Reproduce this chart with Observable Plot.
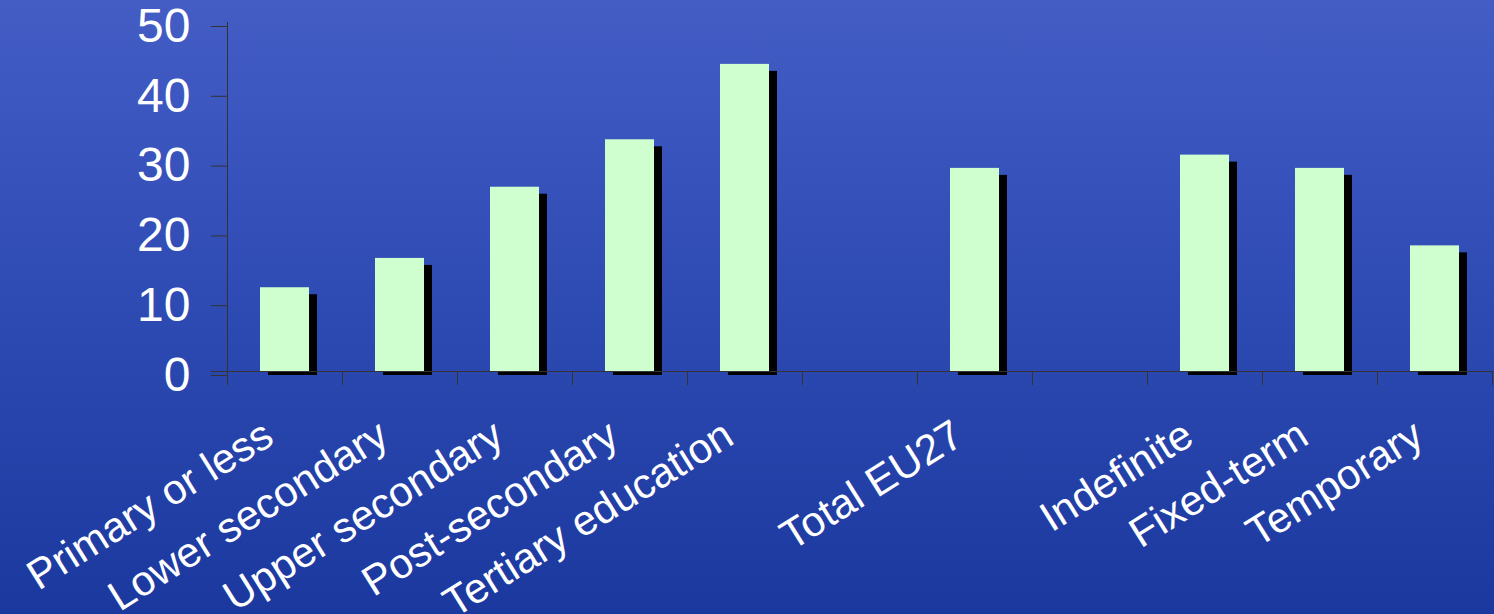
<!DOCTYPE html>
<html>
<head>
<meta charset="utf-8">
<script src="https://cdn.jsdelivr.net/npm/d3@7"></script>
<script src="https://cdn.jsdelivr.net/npm/@observablehq/plot@0.6"></script>
<style>
  html, body { margin: 0; padding: 0; width: 1494px; height: 614px; overflow: hidden; }
  body { background: linear-gradient(to bottom, #435dc5 0%, #2e4bb3 50%, #1b389f 100%); }
  #chart svg { display: block; }
</style>
</head>
<body>
<div id="chart"></div>
<script>
const categories = ["Primary or less", "Lower secondary", "Upper secondary", "Post-secondary", "Tertiary education", "", "Total EU27", "", "Indefinite", "Fixed-term", "Temporary"];
const values = [12.0, 16.2, 26.4, 33.2, 44.0, null, 29.1, null, 31.0, 29.1, 18.0];
const yTicks = [0, 10, 20, 30, 40, 50];

const rows = categories.map((c, i) => ({c, i, v: values[i]}));
const bars = rows.filter(d => d.v != null);
const labels = rows.filter(d => d.c !== "");
const boundaries = d3.range(categories.length + 1);

const font = "'Liberation Sans', Arial, Helvetica, sans-serif";

const plot = Plot.plot({
  width: 1494,
  height: 614,
  marginLeft: 227,
  marginRight: 2,
  marginTop: 22,
  marginBottom: 243,
  x: {domain: [0, categories.length], axis: null},
  y: {domain: [0, 50], axis: null},
  style: {background: "transparent", fontFamily: font, overflow: "visible"},
  marks: [
    Plot.rectY(bars, {x1: d => d.i, x2: d => d.i + 1, y: "v", fill: "black", insetLeft: 33, insetRight: 33, dx: 8, dy: 4, insetTop: 3}),
    Plot.rectY(bars, {x1: d => d.i, x2: d => d.i + 1, y: "v", fill: "#cfffcf", insetLeft: 33, insetRight: 33}),
    Plot.ruleY([0], {stroke: "#333", insetLeft: -16}),
    Plot.ruleX([0], {stroke: "#333"}),
    Plot.axisY({ticks: yTicks, tickSize: 16, tickPadding: 21, fontSize: 48, fill: "white", stroke: "#333", strokeOpacity: 1, label: null, dy: 4}),
    Plot.axisX({ticks: boundaries, tickSize: 14, tickFormat: () => "", stroke: "#333", strokeOpacity: 1, label: null}),
    Plot.text(labels, {x: d => d.i + 0.5, y: () => 0, text: "c", rotate: -32, textAnchor: "end", lineAnchor: "bottom", dx: -9, dy: 71, fontSize: 42, fill: "white"})
  ]
});
document.getElementById("chart").appendChild(plot);
</script>
</body>
</html>
